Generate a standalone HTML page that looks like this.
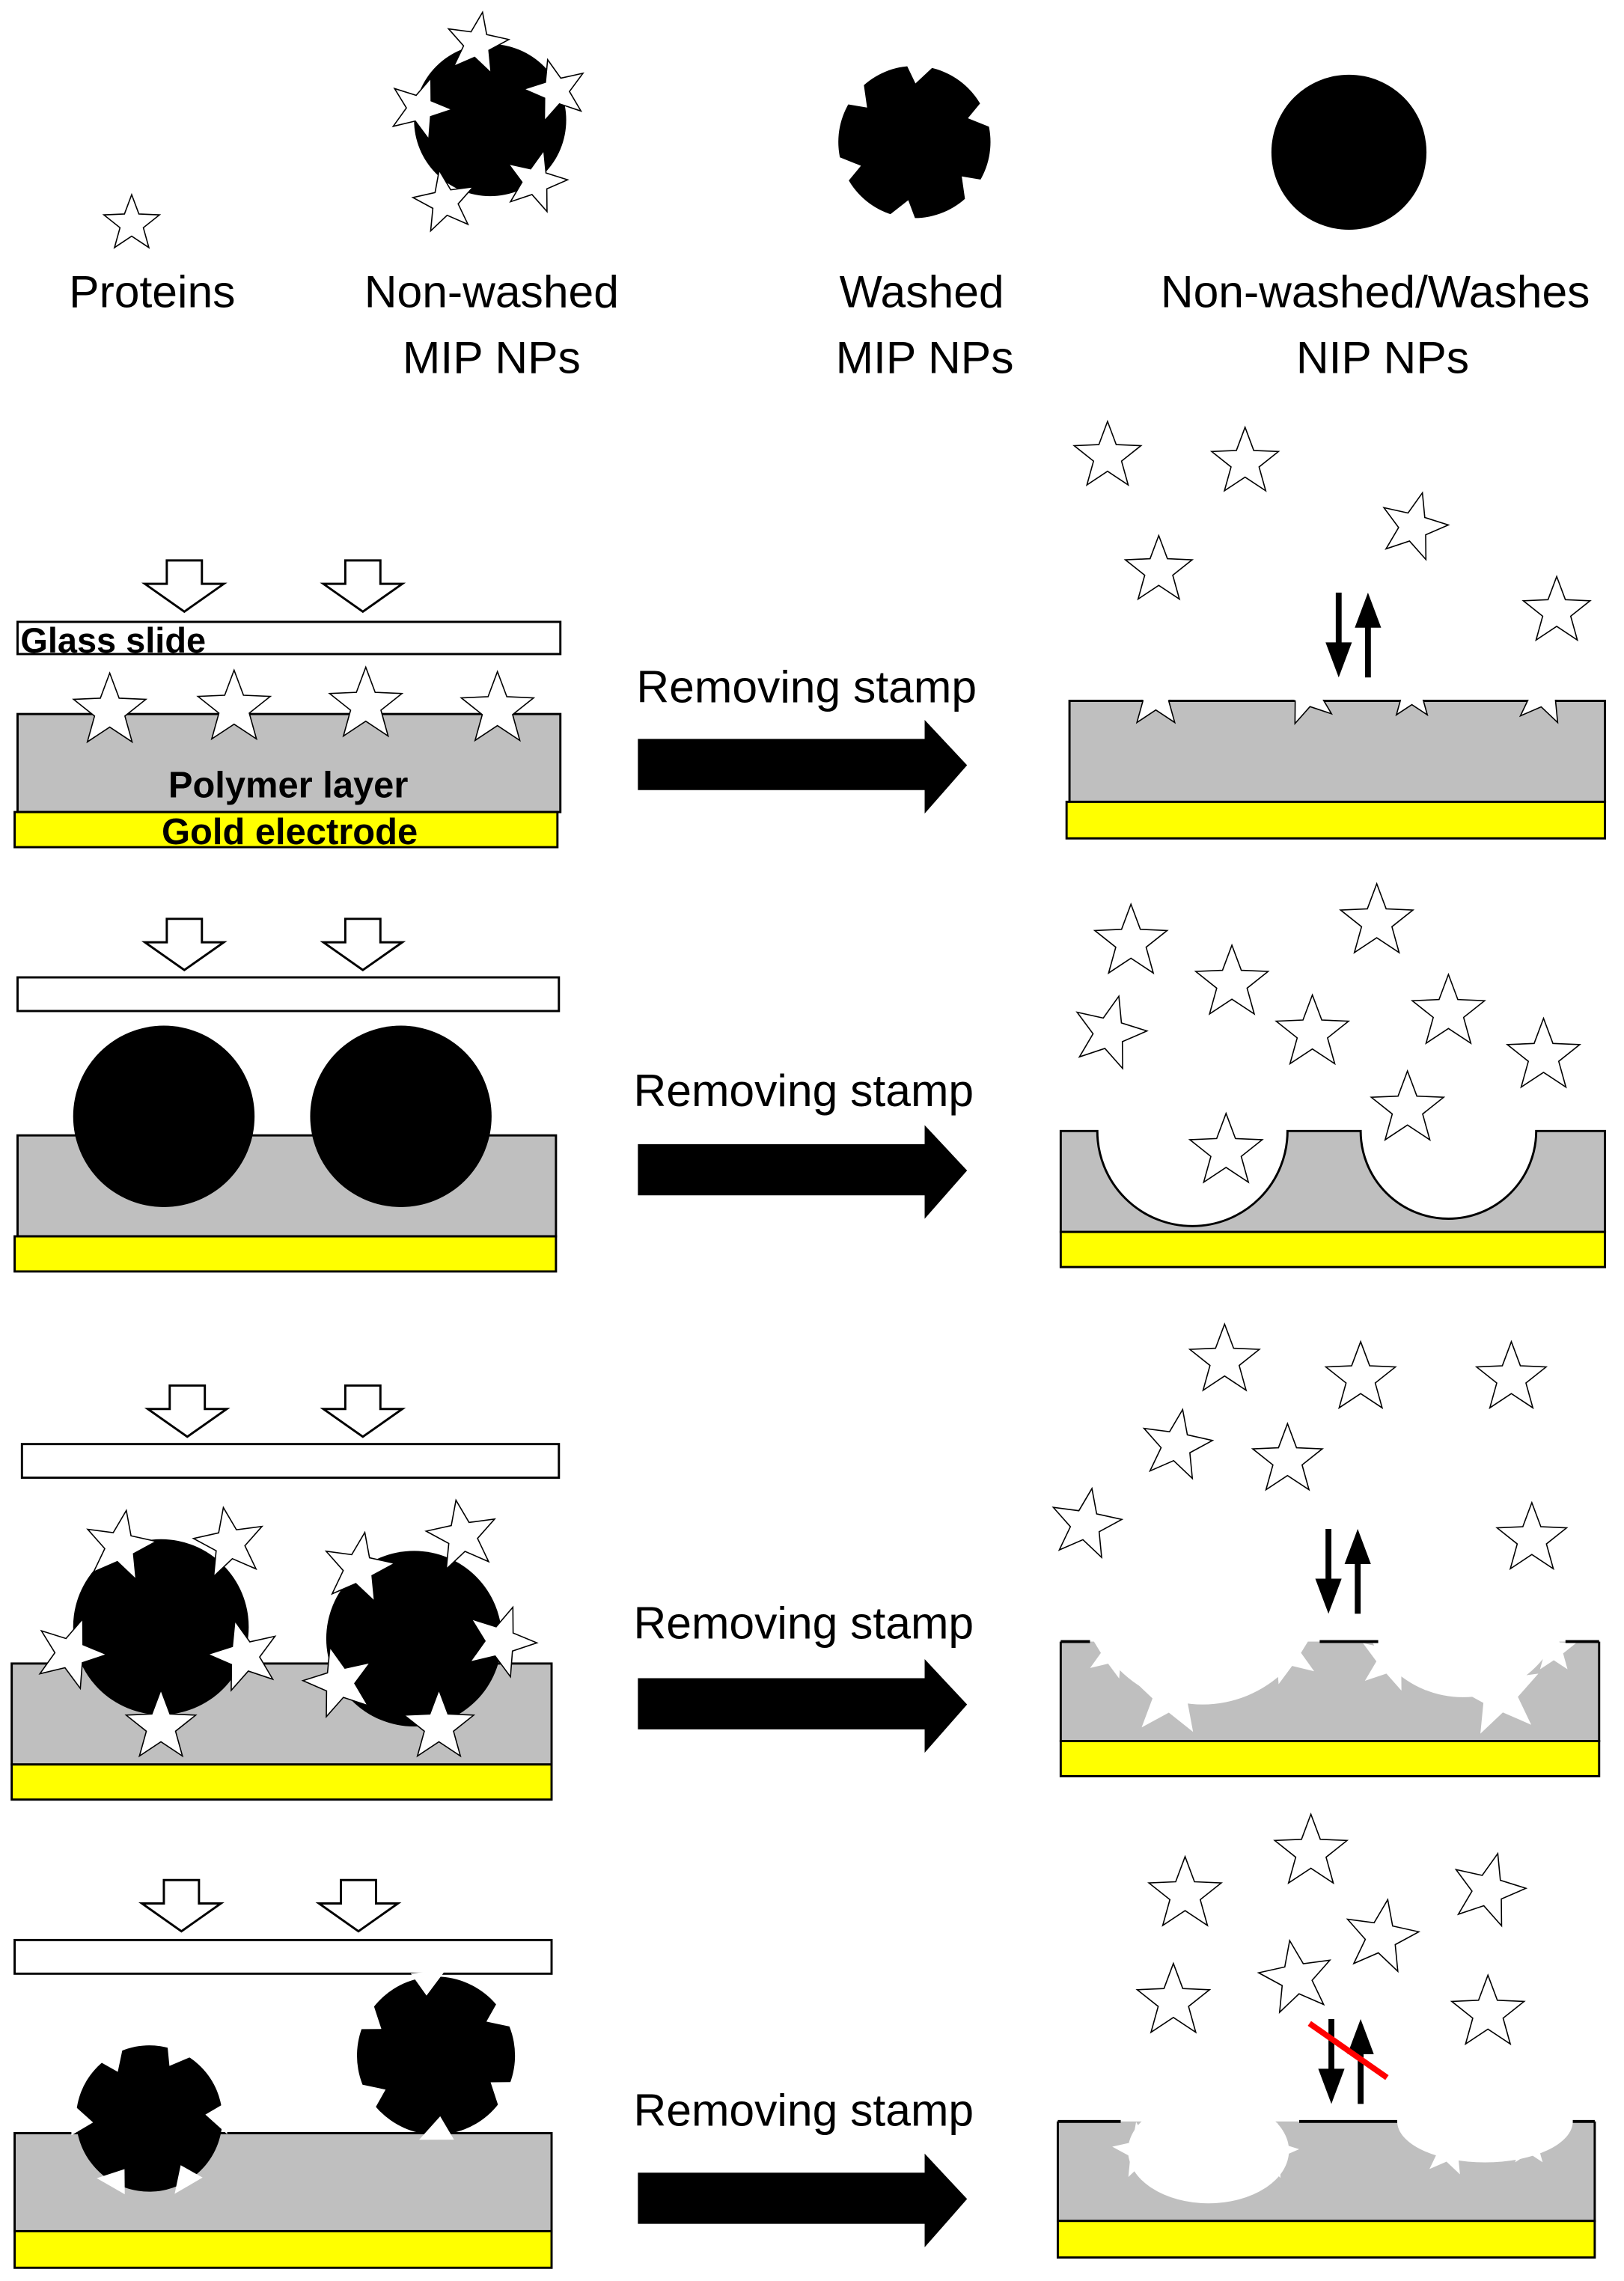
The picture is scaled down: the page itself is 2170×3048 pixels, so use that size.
<!DOCTYPE html>
<html><head><meta charset="utf-8"><style>
html,body{margin:0;padding:0;background:#fff}
svg{display:block}
text{font-family:"Liberation Sans",sans-serif}
</style></head><body>
<svg width="2170" height="3048" viewBox="0 0 1110 1559" xmlns="http://www.w3.org/2000/svg">
<defs>
<polygon id="st" points="0,-1 0.247,-0.34 0.951,-0.309 0.399,0.13 0.588,0.809 0,0.42 -0.588,0.809 -0.399,0.13 -0.951,-0.309 -0.247,-0.34" fill="#fff" stroke="#000" stroke-width="1.6" vector-effect="non-scaling-stroke"/>
<polygon id="wst" points="0,-1 0.247,-0.34 0.951,-0.309 0.399,0.13 0.588,0.809 0,0.42 -0.588,0.809 -0.399,0.13 -0.951,-0.309 -0.247,-0.34" fill="#fff"/>
<g id="wmip">
<circle r="50" fill="#000"/>
<polygon points="-16,-52 6,-54 -6,-38" fill="#fff" transform="rotate(10)"/>
<polygon points="-16,-52 6,-54 -6,-38" fill="#fff" transform="rotate(75)"/>
<polygon points="-16,-52 6,-54 -6,-38" fill="#fff" transform="rotate(135)"/>
<polygon points="-16,-52 6,-54 -6,-38" fill="#fff" transform="rotate(195)"/>
<polygon points="-16,-52 6,-54 -6,-38" fill="#fff" transform="rotate(255)"/>
<polygon points="-16,-52 6,-54 -6,-38" fill="#fff" transform="rotate(315)"/>
</g>
<polygon id="harr" points="-12,0 12,0 12,16 27,16 0,35 -27,16 -12,16" fill="#fff" stroke="#000" stroke-width="1.5"/>
<polygon id="barr" points="436,0 632,0 632,-13 661,18 632,51 632,35 436,35" fill="#000"/>
<g id="darr">
<line x1="-10" y1="0" x2="-10" y2="48" stroke="#000" stroke-width="4"/>
<polygon points="-19,34 -1,34 -10,58" fill="#000"/>
<line x1="10" y1="10" x2="10" y2="58" stroke="#000" stroke-width="4"/>
<polygon points="1,24 19,24 10,0" fill="#000"/>
</g>
</defs>

<!-- Legend -->
<use href="#st" transform="translate(90,153) scale(20)"/>
<text x="104" y="210" font-size="31" text-anchor="middle">Proteins</text>

<circle cx="335" cy="82" r="52" fill="#000"/>
<use href="#st" transform="translate(326,30) rotate(10) scale(22)"/>
<use href="#st" transform="translate(380,62) rotate(-15) scale(22)"/>
<use href="#st" transform="translate(287,74) rotate(20) scale(22)"/>
<use href="#st" transform="translate(304,138) rotate(-10) scale(22)"/>
<use href="#st" transform="translate(366,124) rotate(15) scale(22)"/>
<text x="336" y="210" font-size="31" text-anchor="middle">Non-washed</text>
<text x="336" y="255" font-size="31" text-anchor="middle">MIP NPs</text>

<use href="#wmip" transform="translate(625,97) scale(1.04)"/>
<text x="630" y="210" font-size="31" text-anchor="middle">Washed</text>
<text x="632" y="255" font-size="31" text-anchor="middle">MIP NPs</text>

<circle cx="922" cy="104" r="53" fill="#000"/>
<text x="940" y="210" font-size="31" text-anchor="middle">Non-washed/Washes</text>
<text x="945" y="255" font-size="31" text-anchor="middle">NIP NPs</text>

<!-- Row 1 -->
<use href="#harr" transform="translate(126,383)"/>
<use href="#harr" transform="translate(248,383)"/>
<rect x="12" y="425" width="371" height="22" fill="#fff" stroke="#000" stroke-width="1.5"/>
<text x="14" y="446" font-size="24" font-weight="bold">Glass slide</text>
<rect x="12" y="488" width="371" height="67" fill="#bfbfbf" stroke="#000" stroke-width="1.5"/>
<use href="#st" transform="translate(75,486) scale(26)"/>
<use href="#st" transform="translate(160,484) scale(26)"/>
<use href="#st" transform="translate(250,482) scale(26)"/>
<use href="#st" transform="translate(340,485) scale(26)"/>
<text x="197" y="545" font-size="25" font-weight="bold" text-anchor="middle">Polymer layer</text>
<rect x="10" y="555" width="371" height="24" fill="#ffff00" stroke="#000" stroke-width="1.5"/>
<text x="198" y="577" font-size="25" font-weight="bold" text-anchor="middle">Gold electrode</text>
<text x="435" y="480" font-size="31">Removing stamp</text>
<use href="#barr" transform="translate(0,505)"/>

<rect x="731" y="479" width="366" height="69" fill="#bfbfbf" stroke="#000" stroke-width="1.5"/>
<use href="#st" transform="translate(790,476) scale(22)"/>
<use href="#st" transform="translate(893,474) rotate(-15) scale(22)"/>
<use href="#st" transform="translate(965,474) scale(18)"/>
<use href="#st" transform="translate(1055,474) rotate(10) scale(22)"/>
<rect x="760" y="440" width="320" height="38.2" fill="#fff"/>
<rect x="729" y="548" width="368" height="25" fill="#ffff00" stroke="#000" stroke-width="1.5"/>
<use href="#darr" transform="translate(925,405)"/>
<use href="#st" transform="translate(757,312) scale(24)"/>
<use href="#st" transform="translate(851,316) scale(24)"/>
<use href="#st" transform="translate(966,360) rotate(15) scale(24)"/>
<use href="#st" transform="translate(792,390) scale(24)"/>
<use href="#st" transform="translate(1064,418) scale(24)"/>

<!-- Row 2 -->
<use href="#harr" transform="translate(126,628)"/>
<use href="#harr" transform="translate(248,628)"/>
<rect x="12" y="668" width="370" height="23" fill="#fff" stroke="#000" stroke-width="1.5"/>
<rect x="12" y="776" width="368" height="69" fill="#bfbfbf" stroke="#000" stroke-width="1.5"/>
<circle cx="112" cy="763" r="62" fill="#000"/>
<circle cx="274" cy="763" r="62" fill="#000"/>
<rect x="10" y="845" width="370" height="24" fill="#ffff00" stroke="#000" stroke-width="1.5"/>
<text x="433" y="756" font-size="31">Removing stamp</text>
<use href="#barr" transform="translate(0,782)"/>

<path d="M725,773 H750 A65,65 0 0 0 880,773 H930 A60,60 0 0 0 1050,773 H1097 V842 H725 Z" fill="#bfbfbf" stroke="#000" stroke-width="1.5"/>
<rect x="725" y="842" width="372" height="24" fill="#ffff00" stroke="#000" stroke-width="1.5"/>
<use href="#st" transform="translate(773,644) scale(26)"/>
<use href="#st" transform="translate(941,630) scale(26)"/>
<use href="#st" transform="translate(842,672) scale(26)"/>
<use href="#st" transform="translate(990,692) scale(26)"/>
<use href="#st" transform="translate(758,706) rotate(15) scale(26)"/>
<use href="#st" transform="translate(897,706) scale(26)"/>
<use href="#st" transform="translate(1055,722) scale(26)"/>
<use href="#st" transform="translate(962,758) scale(26)"/>
<use href="#st" transform="translate(838,787) scale(26)"/>

<!-- Row 3 -->
<use href="#harr" transform="translate(128,947)"/>
<use href="#harr" transform="translate(248,947)"/>
<rect x="15" y="987" width="367" height="23" fill="#fff" stroke="#000" stroke-width="1.5"/>
<rect x="8" y="1137" width="369" height="69" fill="#bfbfbf" stroke="#000" stroke-width="1.5"/>
<circle cx="110" cy="1112" r="60" fill="#000"/>
<circle cx="283" cy="1120" r="60" fill="#000"/>
<use href="#st" transform="translate(82,1057) rotate(10) scale(25)"/>
<use href="#st" transform="translate(157,1055) rotate(-10) scale(25)"/>
<use href="#st" transform="translate(48,1130) rotate(20) scale(25)"/>
<use href="#st" transform="translate(167,1132) rotate(-15) scale(25)"/>
<use href="#st" transform="translate(110,1180) scale(25)"/>
<use href="#st" transform="translate(245,1072) rotate(10) scale(25)"/>
<use href="#st" transform="translate(316,1050) rotate(-10) scale(25)"/>
<use href="#st" transform="translate(342,1122) rotate(20) scale(25)"/>
<use href="#st" transform="translate(232,1150) rotate(-15) scale(25)"/>
<use href="#st" transform="translate(300,1180) scale(25)"/>
<rect x="8" y="1206" width="369" height="24" fill="#ffff00" stroke="#000" stroke-width="1.5"/>
<text x="433" y="1120" font-size="31">Removing stamp</text>
<use href="#barr" transform="translate(0,1147)"/>

<rect x="725" y="1122" width="368" height="68" fill="#bfbfbf"/>
<circle cx="822" cy="1085" r="80" fill="#fff"/>
<circle cx="1000" cy="1090" r="70" fill="#fff"/>
<rect x="720" y="1060" width="380" height="61" fill="#fff"/>
<use href="#wst" transform="translate(800,1158) rotate(5) scale(30)"/>
<use href="#wst" transform="translate(1025,1158) rotate(-10) scale(30)"/>
<use href="#wst" transform="translate(760,1130) rotate(20) scale(18)"/>
<use href="#wst" transform="translate(880,1130) rotate(-20) scale(22)"/>
<use href="#wst" transform="translate(950,1135) rotate(15) scale(22)"/>
<use href="#wst" transform="translate(1062,1128) scale(16)"/>
<path d="M725,1122 V1190 H1093 V1122" fill="none" stroke="#000" stroke-width="1.5"/>
<line x1="725" y1="1122" x2="745" y2="1122" stroke="#000" stroke-width="2"/>
<line x1="902" y1="1122" x2="942" y2="1122" stroke="#000" stroke-width="2"/>
<line x1="1070" y1="1122" x2="1093" y2="1122" stroke="#000" stroke-width="2"/>
<rect x="725" y="1190" width="368" height="24" fill="#ffff00" stroke="#000" stroke-width="1.5"/>
<use href="#darr" transform="translate(918,1045)"/>
<use href="#st" transform="translate(837,930) scale(25)"/>
<use href="#st" transform="translate(930,942) scale(25)"/>
<use href="#st" transform="translate(1033,942) scale(25)"/>
<use href="#st" transform="translate(804,988) rotate(10) scale(25)"/>
<use href="#st" transform="translate(880,998) scale(25)"/>
<use href="#st" transform="translate(742,1042) rotate(10) scale(25)"/>
<use href="#st" transform="translate(1047,1052) scale(25)"/>

<!-- Row 4 -->
<use href="#harr" transform="translate(124,1285)"/>
<use href="#harr" transform="translate(245,1285)"/>
<rect x="10" y="1326" width="367" height="23" fill="#fff" stroke="#000" stroke-width="1.5"/>
<rect x="10" y="1458" width="367" height="67" fill="#bfbfbf" stroke="#000" stroke-width="1.5"/>
<use href="#wmip" transform="translate(102,1448) rotate(20)"/>
<use href="#wmip" transform="translate(298,1405) rotate(-10) scale(1.08)"/>
<rect x="10" y="1525" width="367" height="25" fill="#ffff00" stroke="#000" stroke-width="1.5"/>
<text x="433" y="1453" font-size="31">Removing stamp</text>
<use href="#barr" transform="translate(0,1485)"/>

<rect x="723" y="1450" width="367" height="68" fill="#bfbfbf"/>
<ellipse cx="826" cy="1470" rx="55" ry="36" fill="#fff"/>
<ellipse cx="1015" cy="1450" rx="60" ry="28" fill="#fff"/>
<use href="#wst" transform="translate(780,1470) rotate(-10) scale(20)"/>
<use href="#wst" transform="translate(868,1470) rotate(15) scale(20)"/>
<use href="#wst" transform="translate(990,1470) rotate(10) scale(18)"/>
<use href="#wst" transform="translate(1045,1465) scale(16)"/>
<path d="M723,1450 V1518 H1090 V1450" fill="none" stroke="#000" stroke-width="1.5"/>
<line x1="723" y1="1450" x2="766" y2="1450" stroke="#000" stroke-width="2"/>
<line x1="888" y1="1450" x2="955" y2="1450" stroke="#000" stroke-width="2"/>
<line x1="1075" y1="1450" x2="1090" y2="1450" stroke="#000" stroke-width="2"/>
<rect x="723" y="1518" width="367" height="25" fill="#ffff00" stroke="#000" stroke-width="1.5"/>
<use href="#darr" transform="translate(920,1380)"/>
<line x1="895" y1="1383" x2="948" y2="1420" stroke="#ff0000" stroke-width="4"/>
<use href="#st" transform="translate(896,1266) scale(26)"/>
<use href="#st" transform="translate(810,1295) scale(26)"/>
<use href="#st" transform="translate(1017,1292) rotate(15) scale(26)"/>
<use href="#st" transform="translate(944,1324) rotate(10) scale(26)"/>
<use href="#st" transform="translate(886,1352) rotate(-10) scale(26)"/>
<use href="#st" transform="translate(802,1368) scale(26)"/>
<use href="#st" transform="translate(1017,1376) scale(26)"/>
</svg>
</body></html>
